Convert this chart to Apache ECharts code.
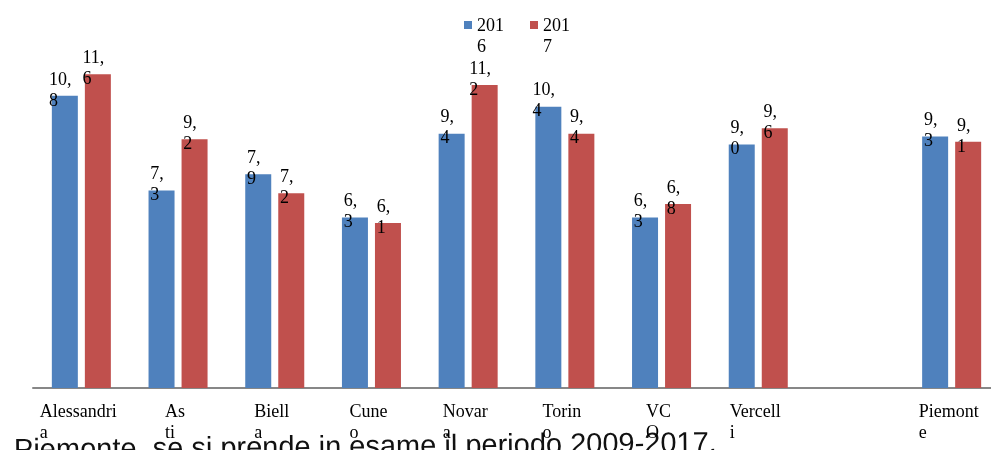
<!DOCTYPE html>
<html>
<head>
<meta charset="utf-8">
<title>Piemonte 2016-2017</title>
<script src="https://cdn.jsdelivr.net/npm/echarts@6/dist/echarts.min.js"></script>
<style>
  html, body { margin: 0; padding: 0; background: #fff; }
  #chart { width: 991px; height: 450px; }
</style>
</head>
<body>
<div id="chart"></div>
<script>
// Provinces and regional total; the empty slot keeps a gap before Piemonte
const categories = ['Alessandria', 'Asti', 'Biella', 'Cuneo', 'Novara', 'Torino', 'VCO', 'Vercelli', '', 'Piemonte'];
// Tick labels as they wrap under each group
const tickLabels = ['Alessandri\na', 'As\nti', 'Biell\na', 'Cune\no', 'Novar\na', 'Torin\no', 'VC\nO', 'Vercell\ni', '', 'Piemont\ne'];
const seriesNames = ['2016', '2017'];
const values2016 = [10.8, 7.3, 7.9, 6.3, 9.4, 10.4, 6.3, 9.0, null, 9.3];
const values2017 = [11.6, 9.2, 7.2, 6.1, 11.2, 9.4, 6.8, 9.6, null, 9.1];
const footText = 'Piemonte, se si prende in esame il periodo 2009-2017.';

const serif = '"Liberation Serif", "DejaVu Serif", serif';

function toRich(lines, key) {
  return lines.map(s => '{' + key + '|' + s + '}').join('\n');
}

function valueLabel(p) {
  if (p.value == null || p.value === '-') return '';
  const parts = p.value.toFixed(1).replace('.', ',').split(',');
  return toRich([parts[0] + ',', parts[1]], 'v');
}

const labelStyle = {
  show: true,
  position: 'top',
  distance: 0,
  offset: [-4.5, 15.5],
  align: 'center',
  formatter: valueLabel,
  rich: {
    v: { fontFamily: serif, fontSize: 18, lineHeight: 21, color: '#000', align: 'left' }
  }
};

const chart = echarts.init(document.getElementById('chart'), null, { renderer: 'canvas' });

chart.setOption({
  animation: false,
  backgroundColor: '#fff',
  grid: { left: 33, width: 967, top: 9.3, bottom: 62, containLabel: false, outerBoundsMode: 'none' },
  legend: {
    left: 464,
    top: 16,
    padding: 0,
    itemWidth: 8,
    itemHeight: 32,
    itemGap: 26,
    icon: 'path://M0,0H8V8H0ZM0,32H0.01V31.99H0Z',
    formatter: name => name.slice(0, 3) + '\n' + name.slice(3),
    textStyle: { fontFamily: serif, fontSize: 18, lineHeight: 21, color: '#000' },
    data: seriesNames
  },
  xAxis: {
    type: 'category',
    data: categories,
    axisLine: { lineStyle: { color: '#878787', width: 2 } },
    axisTick: { show: false },
    axisLabel: {
      interval: 0,
      margin: 14,
      formatter: (val, idx) => tickLabels[idx] ? toRich(tickLabels[idx].split('\n'), 't') : '',
      rich: {
        t: { fontFamily: serif, fontSize: 18, lineHeight: 21, color: '#000', align: 'left', padding: [0, 6, 0, 0] }
      }
    }
  },
  yAxis: {
    type: 'value',
    min: 0,
    max: 14,
    interval: 2,
    axisLine: { show: false },
    axisTick: { show: false },
    axisLabel: { show: false },
    splitLine: { show: false }
  },
  series: [
    {
      name: seriesNames[0],
      type: 'bar',
      barWidth: 26,
      barGap: '27%',
      itemStyle: { color: '#4F81BD' },
      label: labelStyle,
      data: values2016.map(v => v == null ? '-' : v)
    },
    {
      name: seriesNames[1],
      type: 'bar',
      barWidth: 26,
      barGap: '27%',
      itemStyle: { color: '#C0504D' },
      label: labelStyle,
      data: values2017.map(v => v == null ? '-' : v)
    }
  ],
  graphic: [
    {
      type: 'text',
      z: -10,
      x: 14,
      y: 451,
      originX: 0,
      originY: 0,
      rotation: 0.01,
      style: {
        text: footText,
        x: 0,
        y: 0,
        fill: '#111',
        font: '29px "Liberation Sans", Arial, sans-serif',
        verticalAlign: 'middle',
        align: 'left'
      }
    }
  ]
});
</script>
</body>
</html>
